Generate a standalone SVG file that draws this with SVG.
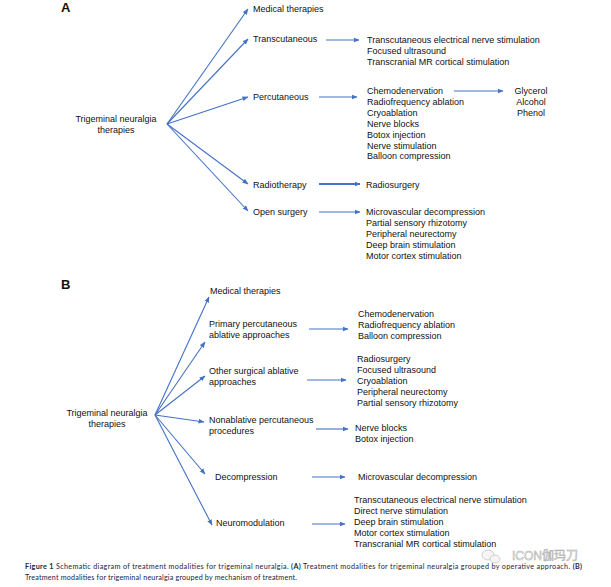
<svg xmlns="http://www.w3.org/2000/svg" width="611" height="587" viewBox="0 0 611 587">
<defs>
<marker id="ah" markerUnits="userSpaceOnUse" markerWidth="6" markerHeight="6" viewBox="0 0 6 6" refX="5.5" refY="3" orient="auto">
<path d="M0,0.6 L6,3 L0,5.4 z" fill="#4472C4"/>
</marker>
<style>
.c line{stroke:#4472C4;stroke-width:1.1;marker-end:url(#ah);fill:none}
text{font-family:"Liberation Sans",Arial,sans-serif;font-size:9px;fill:#111}
.lbl{font-size:13px;font-weight:bold}
.mid{text-anchor:middle}
.cap{font-family:Lato,"Liberation Sans",sans-serif;font-size:7.2px;fill:#1c1c3c}
.wm{font-family:"Liberation Sans","Noto Sans CJK SC",sans-serif;font-size:12px;fill:#f4f4f4;stroke:#9a9a9a;stroke-width:0.5}
</style>
</defs>
<rect width="611" height="587" fill="#fff"/>

<text class="lbl" x="61" y="12">A</text>
<text class="lbl" x="61" y="289">B</text>

<g class="c" id="connectors">
<line x1="167" y1="124" x2="248" y2="9"/>
<line x1="167" y1="124" x2="248" y2="39"/>
<line x1="167" y1="124" x2="248" y2="97"/>
<line x1="167" y1="124" x2="248" y2="184"/>
<line x1="167" y1="124" x2="248" y2="211"/>
<line x1="326" y1="40" x2="359" y2="40"/>
<line x1="319" y1="97" x2="357" y2="97"/>
<line x1="454" y1="91" x2="503" y2="91"/>
<line x1="319" y1="184" x2="360" y2="184" style="stroke-width:2"/>
<line x1="319" y1="212" x2="360" y2="212"/>
<line x1="155" y1="415" x2="209" y2="297"/>
<line x1="155" y1="415" x2="205" y2="342"/>
<line x1="155" y1="415" x2="205" y2="376"/>
<line x1="155" y1="415" x2="204" y2="422"/>
<line x1="155" y1="415" x2="205" y2="474"/>
<line x1="155" y1="415" x2="212" y2="525"/>
<line x1="309" y1="329" x2="348" y2="329"/>
<line x1="307" y1="380" x2="346" y2="380"/>
<line x1="316" y1="429" x2="348" y2="429"/>
<line x1="312" y1="477" x2="345" y2="477"/>
<line x1="312" y1="524" x2="345" y2="524"/>
</g>

<g id="a-root"><text class="mid" x="116" y="122">Trigeminal neuralgia</text><text class="mid" x="116" y="132.5">therapies</text></g>
<g id="a-medical"><text x="253" y="12">Medical therapies</text></g>
<g id="a-transcutaneous"><text x="253" y="42">Transcutaneous</text></g>
<g id="a-percutaneous"><text x="253" y="100">Percutaneous</text></g>
<g id="a-radiotherapy"><text x="253" y="188">Radiotherapy</text></g>
<g id="a-open"><text x="253" y="215">Open surgery</text></g>
<g id="a-trans-list"><text x="367" y="43">Transcutaneous electrical nerve stimulation</text><text x="367" y="53.8">Focused ultrasound</text><text x="367" y="64.6">Transcranial MR cortical stimulation</text></g>
<g id="a-perc-list"><text x="367" y="94">Chemodenervation</text><text x="367" y="104.9">Radiofrequency ablation</text><text x="367" y="115.8">Cryoablation</text><text x="367" y="126.7">Nerve blocks</text><text x="367" y="137.6">Botox injection</text><text x="367" y="148.5">Nerve stimulation</text><text x="367" y="159.4">Balloon compression</text></g>
<g id="a-chemo-list"><text class="mid" x="531" y="94">Glycerol</text><text class="mid" x="531" y="104.9">Alcohol</text><text class="mid" x="531" y="115.8">Phenol</text></g>
<g id="a-radio-list"><text x="366" y="187.5">Radiosurgery</text></g>
<g id="a-open-list"><text x="366" y="215">Microvascular decompression</text><text x="366" y="225.9">Partial sensory rhizotomy</text><text x="366" y="236.8">Peripheral neurectomy</text><text x="366" y="247.7">Deep brain stimulation</text><text x="366" y="258.6">Motor cortex stimulation</text></g>

<g id="b-root"><text class="mid" x="107" y="416">Trigeminal neuralgia</text><text class="mid" x="107" y="427">therapies</text></g>
<g id="b-medical"><text x="210" y="294">Medical therapies</text></g>
<g id="b-primary"><text x="209" y="327">Primary percutaneous</text><text x="209" y="337.8">ablative approaches</text></g>
<g id="b-other"><text x="209" y="374">Other surgical ablative</text><text x="209" y="384.8">approaches</text></g>
<g id="b-nonablative"><text x="209" y="423">Nonablative percutaneous</text><text x="209" y="433.8">procedures</text></g>
<g id="b-decompression"><text x="215" y="480">Decompression</text></g>
<g id="b-neuromod"><text x="216" y="526">Neuromodulation</text></g>
<g id="b-primary-list"><text x="358" y="317">Chemodenervation</text><text x="358" y="327.9">Radiofrequency ablation</text><text x="358" y="338.8">Balloon compression</text></g>
<g id="b-other-list"><text x="357" y="362">Radiosurgery</text><text x="357" y="372.9">Focused ultrasound</text><text x="357" y="383.8">Cryoablation</text><text x="357" y="394.7">Peripheral neurectomy</text><text x="357" y="405.6">Partial sensory rhizotomy</text></g>
<g id="b-nonabl-list"><text x="355" y="431">Nerve blocks</text><text x="355" y="441.7">Botox injection</text></g>
<g id="b-decomp-list"><text x="358" y="480">Microvascular decompression</text></g>
<g id="b-neuro-list"><text x="354" y="503">Transcutaneous electrical nerve stimulation</text><text x="354" y="513.9">Direct nerve stimulation</text><text x="354" y="524.8">Deep brain stimulation</text><text x="354" y="535.7">Motor cortex stimulation</text><text x="354" y="546.6">Transcranial MR cortical stimulation</text></g>

<g id="caption">
<text class="cap" x="25" y="568.5" textLength="557" lengthAdjust="spacing"><tspan font-weight="bold">Figure 1</tspan> Schematic diagram of treatment modalities for trigeminal neuralgia. <tspan font-weight="bold">(A)</tspan> Treatment modalities for trigeminal neuralgia grouped by operative approach. <tspan font-weight="bold">(B)</tspan></text>
<text class="cap" x="25" y="579.5" textLength="272" lengthAdjust="spacing">Treatment modalities for trigeminal neuralgia grouped by mechanism of treatment.</text>
</g>

<g id="watermark" opacity="0.85">
<ellipse cx="488" cy="555" rx="6" ry="5" fill="#f4f4f4" stroke="#9a9a9a" stroke-width="0.5"/>
<ellipse cx="495" cy="559" rx="5" ry="4" fill="#f4f4f4" stroke="#9a9a9a" stroke-width="0.5"/>
<text class="wm" x="512" y="560">ICON伽玛刀</text>
</g>
</svg>
